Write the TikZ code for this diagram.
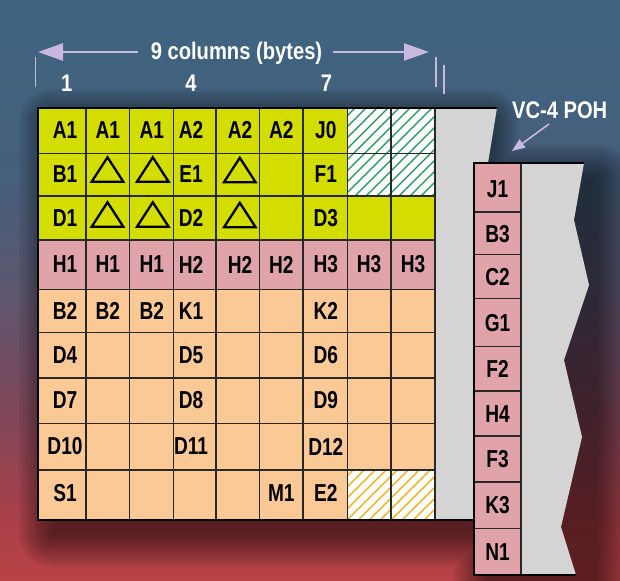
\documentclass[tikz,border=0pt]{standalone}
\usepackage{fontspec}
\setmainfont{Liberation Sans}
\newfontfamily\lblfont[FakeStretch=0.78]{Liberation Sans}
\newfontfamily\ttlfont[FakeStretch=0.84]{Liberation Sans}
\usetikzlibrary{arrows.meta,calc}

\definecolor{ylw}{RGB}{211,222,0}
\definecolor{pnk}{RGB}{224,163,170}
\definecolor{pch}{RGB}{250,201,150}
\definecolor{gry}{RGB}{212,212,212}
\definecolor{lav}{RGB}{200,184,222}
\definecolor{hgreen}{RGB}{20,150,80}
\definecolor{horange}{RGB}{242,178,20}
\definecolor{gline}{RGB}{40,40,40}

\pgfdeclareverticalshading{bgshade}{100bp}{%
 rgb(0bp)=(0.725,0.259,0.275);
 rgb(25bp)=(0.725,0.259,0.275);
 rgb(30.2bp)=(0.667,0.251,0.282);
 rgb(38.8bp)=(0.51,0.275,0.345);
 rgb(49.1bp)=(0.37,0.335,0.43);
 rgb(59.5bp)=(0.275,0.372,0.478);
 rgb(75bp)=(0.243,0.392,0.51);
 rgb(100bp)=(0.243,0.392,0.51)}

\begin{document}
\begin{tikzpicture}[x=1pt,y=-1pt,
  lbl/.style={font=\lblfont\bfseries\fontsize{24.5}{25}\selectfont, inner sep=0pt, text=black},
  ttl/.style={font=\ttlfont\bfseries\fontsize{24}{26}\selectfont, text=white, inner sep=0pt},
  bdr/.style={line width=2.6pt, black},
  cellline/.style={line width=1.1pt, gline},
  tri/.style={line width=2.3pt, black, line join=miter},
  bigarrow/.style={lav, line width=2.7pt, -{Triangle[length=25pt,width=17pt]}},
  tickline/.style={lav, line width=1.3pt},
  pointer/.style={lav, line width=1.6pt, -{Triangle[length=13pt,width=10pt]}}]

\useasboundingbox (0,0) rectangle (620,580);
\clip (0,0) rectangle (620,580);
\shade[shading=bgshade] (0,0) rectangle (620,580);

% soft shadow
\foreach \i in {0,...,11}{
  \pgfmathsetmacro\d{3*\i}
  \fill[black, opacity=0.05, rounded corners=\d pt]
    (52-\d,122-\d) rectangle (486+\d,534+\d)
    (486-\d,177-\d) rectangle (598+\d,589+\d);
}

% gray blocks
\fill[gry] (435,108) -- (497,108) -- (488,163) -- (474,163) -- (474,520) -- (435,520) -- cycle;
\fill[gry] (521,163) -- (584,163) -- (574,220) -- (589,285) -- (564,360) -- (582,437) -- (561,527) -- (576,575) -- (521,575) -- cycle;

% cell fills
\fill[ylw] (38,108) rectangle (347.5,240);
\fill[ylw] (347.5,196) rectangle (435,240);
\fill[pnk] (38,240) rectangle (435,289.5);
\fill[pch] (38,289.5) rectangle (435,520);
\begin{scope}
  \clip (347.5,108) rectangle (435,196);
  \fill[white] (347.5,108) rectangle (435,196);
  \foreach \k in {0,...,17} \draw[hgreen, line width=1.4pt] (256+\k*11,196) -- ++(100,-100);
\end{scope}
\begin{scope}
  \clip (347.5,470) rectangle (435,520);
  \fill[white] (347.5,470) rectangle (435,520);
  \foreach \k in {0,...,13} \draw[horange, line width=1.4pt] (292+\k*11,520) -- ++(60,-60);
\end{scope}

% POH column
\fill[pnk] (474,163) rectangle (521,575);
\foreach \y in {212,254.5,298.5,346.5,391,436,482,528.5}
  \draw[cellline] (474,\y) -- (521,\y);

% grid lines
\foreach \x in {86,129.5,173.5,216,259.5,303,347.5,391}
  \draw[cellline] (\x,108) -- (\x,520);
\foreach \y in {153.5,196,240,289.5,332.5,378,423.5,470}
  \draw[cellline] (38,\y) -- (435,\y);
\draw[gline, line width=1.7pt] (435,108) -- (435,520);
\draw[gline, line width=1.7pt] (521,163) -- (521,575);

% thick borders
\draw[bdr] (474,520) -- (38,520) -- (38,108) -- (497,108);
\draw[bdr] (576,575) -- (474,575) -- (474,163) -- (584,163);

% column / row centre coordinates
\coordinate (c1) at (65,0);   \coordinate (c2) at (107.8,0); \coordinate (c3) at (151.8,0);
\coordinate (c4) at (191,0);  \coordinate (c5) at (240,0);   \coordinate (c6) at (281.3,0);
\coordinate (c7) at (325.8,0);\coordinate (c8) at (369,0);   \coordinate (c9) at (413,0);
\coordinate (r1) at (0,130);  \coordinate (r2) at (0,174.5); \coordinate (r3) at (0,218);
\coordinate (r4) at (0,264.5);\coordinate (r5) at (0,311);   \coordinate (r6) at (0,355);
\coordinate (r7) at (0,400.5);\coordinate (r8) at (0,446.5); \coordinate (r9) at (0,493);

\foreach \t/\c/\r [count=\n] in {A1/1/1,A1/2/1,A1/3/1,A2/4/1,A2/5/1,A2/6/1,J0/7/1,
  B1/1/2,E1/4/2,F1/7/2, D1/1/3,D2/4/3,D3/7/3,
  H1/1/4,H1/2/4,H1/3/4,H2/4/4,H2/5/4,H2/6/4,H3/7/4,H3/8/4,H3/9/4,
  B2/1/5,B2/2/5,B2/3/5,K1/4/5,K2/7/5, D4/1/6,D5/4/6,D6/7/6,
  D7/1/7,D8/4/7,D9/7/7, D10/1/8,D11/4/8,D12/7/8, S1/1/9,M1/6/9,E2/7/9}
  \node[lbl] (L\n) at (c\c |- r\r) {\t};

% POH labels
\foreach \t/\y [count=\n] in {J1/189,B3/234,C2/277,G1/323,F2/369,H4/414,F3/459.5,K3/505.5,N1/552}
  \node[lbl] (P\n) at (497.5,\y) {\t};

% triangles
\foreach \x/\y [count=\n] in {107.5/169.5,152.8/169.5,239.8/170,107.5/214.5,152.8/214.5,239.8/215}{
  \coordinate (T\n) at (\x,\y);
  \draw[tri] ($(T\n)+(-15.8,12.2)$) -- ($(T\n)+(0,-12.2)$) -- ($(T\n)+(15.8,12.2)$) -- cycle;
}

% header
\node[ttl, anchor=base] (title) at (236.5,59.3) {9 columns (bytes)};
\coordinate (la) at (38,52);
\coordinate (ra) at (429,52);
\draw[bigarrow] ([xshift=-13pt]title.west |- la) -- (la);
\draw[bigarrow] ([xshift=11pt]title.east |- ra) -- (ra);
\node[ttl, anchor=base] (n1) at (66.7,91.7) {1};
\node[ttl, anchor=base] (n4) at (191,91.7) {4};
\node[ttl, anchor=base] (n7) at (326.5,91.7) {7};
\coordinate (tk1a) at (35.7,57); \coordinate (tk1b) at (35.7,87);
\coordinate (tk2a) at (436,57);  \coordinate (tk2b) at (436,87);
\coordinate (tk3a) at (444,65);  \coordinate (tk3b) at (444,94);
\draw[tickline] (tk1a) -- (tk1b);
\draw[tickline] (tk2a) -- (tk2b);
\draw[tickline] (tk3a) -- (tk3b);

\node[ttl, anchor=base] (poh) at (559.7,119) {VC-4 POH};
\coordinate (pa) at (549,124);
\coordinate (pb) at (512,151);
\draw[pointer] (pa) -- (pb);
\end{tikzpicture}
\end{document}
